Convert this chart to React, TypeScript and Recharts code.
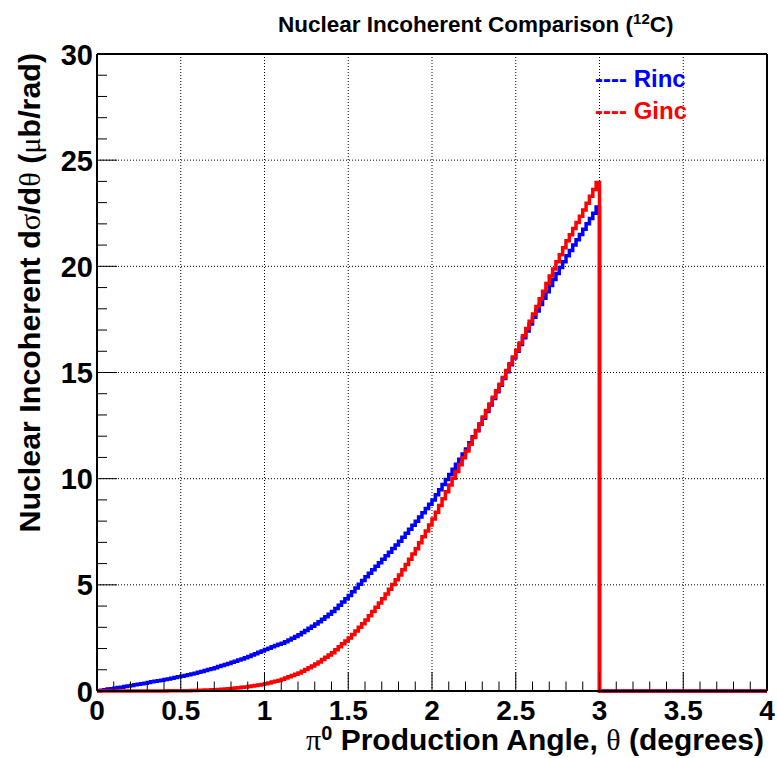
import React from "react";
import { LineChart, Line, XAxis, YAxis, CartesianGrid, ReferenceLine } from "recharts";

// histogram contents, bins of 0.02 deg from 0 to 3
const BIN_WIDTH = 0.02;

const rincValues = [
  0.01, 0.04, 0.06, 0.09, 0.11, 0.13, 0.16, 0.18, 0.21, 0.23,
  0.26, 0.29, 0.32, 0.34, 0.37, 0.40, 0.43, 0.46, 0.48, 0.51,
  0.54, 0.57, 0.60, 0.64, 0.67, 0.70, 0.73, 0.77, 0.80, 0.84,
  0.88, 0.92, 0.97, 1.01, 1.05, 1.10, 1.15, 1.20, 1.25, 1.30,
  1.35, 1.40, 1.46, 1.51, 1.57, 1.63, 1.69, 1.75, 1.82, 1.88,
  1.95, 2.01, 2.08, 2.14, 2.20, 2.25, 2.32, 2.40, 2.48, 2.57,
  2.65, 2.75, 2.85, 2.95, 3.05, 3.15, 3.26, 3.38, 3.50, 3.62,
  3.74, 3.89, 4.04, 4.19, 4.34, 4.50, 4.68, 4.85, 5.03, 5.20,
  5.38, 5.54, 5.71, 5.87, 6.04, 6.20, 6.37, 6.54, 6.71, 6.88,
  7.05, 7.24, 7.43, 7.62, 7.81, 8.00, 8.20, 8.40, 8.60, 8.80,
  9.00, 9.24, 9.48, 9.72, 9.96, 10.20, 10.44, 10.68, 10.92, 11.16,
  11.40, 11.69, 11.98, 12.27, 12.56, 12.85, 13.16, 13.47, 13.78, 14.09,
  14.40, 14.72, 15.04, 15.36, 15.68, 16.00, 16.32, 16.64, 16.96, 17.28,
  17.60, 17.90, 18.20, 18.50, 18.80, 19.10, 19.38, 19.66, 19.94, 20.22,
  20.50, 20.75, 21.00, 21.25, 21.50, 21.75, 22.00, 22.25, 22.50, 22.80,
];

const gincValues = [
  0, 0, 0, 0, 0, 0, 0, 0, 0, 0,
  0, 0, 0, 0, 0.001, 0.002, 0.002, 0.003, 0.003, 0.004,
  0.005, 0.006, 0.007, 0.008, 0.009, 0.01, 0.013, 0.016, 0.02, 0.025,
  0.03, 0.036, 0.042, 0.048, 0.054, 0.06, 0.07, 0.082, 0.095, 0.108,
  0.12, 0.137, 0.155, 0.173, 0.191, 0.21, 0.235, 0.26, 0.285, 0.31,
  0.34, 0.38, 0.42, 0.46, 0.50, 0.55, 0.61, 0.67, 0.73, 0.79,
  0.85, 0.93, 1.01, 1.10, 1.18, 1.27, 1.37, 1.48, 1.59, 1.69,
  1.80, 1.94, 2.08, 2.22, 2.36, 2.50, 2.66, 2.83, 3.00, 3.17,
  3.34, 3.54, 3.74, 3.94, 4.15, 4.35, 4.57, 4.79, 5.01, 5.24,
  5.46, 5.71, 5.96, 6.21, 6.45, 6.70, 6.98, 7.26, 7.54, 7.82,
  8.10, 8.42, 8.74, 9.06, 9.38, 9.70, 10.02, 10.34, 10.66, 10.98,
  11.30, 11.62, 11.94, 12.26, 12.58, 12.90, 13.21, 13.52, 13.83, 14.14,
  14.45, 14.77, 15.09, 15.41, 15.73, 16.05, 16.39, 16.73, 17.07, 17.41,
  17.75, 18.11, 18.47, 18.83, 19.19, 19.55, 19.88, 20.21, 20.54, 20.87,
  21.20, 21.49, 21.78, 22.07, 22.36, 22.65, 22.97, 23.30, 23.62, 23.95,
];

const xMajor = [0, 0.5, 1, 1.5, 2, 2.5, 3, 3.5, 4];
const xTicks = [
  0, 0.1, 0.2, 0.3, 0.4, 0.5, 0.6, 0.7, 0.8, 0.9,
  1, 1.1, 1.2, 1.3, 1.4, 1.5, 1.6, 1.7, 1.8, 1.9,
  2, 2.1, 2.2, 2.3, 2.4, 2.5, 2.6, 2.7, 2.8, 2.9,
  3, 3.1, 3.2, 3.3, 3.4, 3.5, 3.6, 3.7, 3.8, 3.9, 4,
];
const yMajor = [0, 5, 10, 15, 20, 25, 30];
const yTicks = [
  0, 1, 2, 3, 4, 5, 6, 7, 8, 9, 10, 11, 12, 13, 14, 15,
  16, 17, 18, 19, 20, 21, 22, 23, 24, 25, 26, 27, 28, 29, 30,
];

// points at bin low edges, then the empty range 3..4
const data = rincValues.map((r, i) => ({ x: i * BIN_WIDTH, rinc: r, ginc: gincValues[i] }));
data.push({ x: 3, rinc: 0, ginc: 0 });
data.push({ x: 4, rinc: 0, ginc: 0 });

const FONT = "'Liberation Sans', Arial, Helvetica, sans-serif";
const SYMBOL = "'Liberation Serif', 'DejaVu Serif', serif";

function XTick({ x, y, payload }: any) {
  const major = xMajor.includes(payload.value);
  return (
    <g>
      <line x1={x} x2={x} y1={y} y2={y - (major ? 19 : 9.5)} stroke="#000" strokeWidth={1} />
      {major && (
        <text x={x} y={y + 29} textAnchor="middle" fontFamily={FONT} fontWeight="bold" fontSize={28} fill="#000">
          {String(payload.value)}
        </text>
      )}
    </g>
  );
}

function YTick({ x, y, payload }: any) {
  const major = yMajor.includes(payload.value);
  return (
    <g>
      <line x1={x} x2={x + (major ? 20 : 10)} y1={y} y2={y} stroke="#000" strokeWidth={1} />
      {major && (
        <text x={x - 4} y={y + 10.5} textAnchor="end" fontFamily={FONT} fontWeight="bold" fontSize={29} fill="#000">
          {String(payload.value)}
        </text>
      )}
    </g>
  );
}

function XTitle({ viewBox }: any) {
  const vb = viewBox || { x: 97, y: 691, width: 670, height: 67 };
  return (
    <text x={vb.x + vb.width - 3} y={vb.y + 59} textAnchor="end" fontFamily={FONT} fontWeight="bold" fontSize={30} fill="#000">
      <tspan fontFamily={SYMBOL} fontWeight="normal">π</tspan>
      <tspan fontSize={20} dy={-10}>0</tspan>
      <tspan dy={10}> Production Angle, </tspan>
      <tspan fontFamily={SYMBOL} fontWeight="normal">θ</tspan>
      <tspan> (degrees)</tspan>
    </text>
  );
}

function YTitle({ viewBox }: any) {
  const vb = viewBox || { x: 0, y: 54, width: 97, height: 637 };
  const tx = vb.x + 40;
  const ty = vb.y - 1;
  return (
    <text x={tx} y={ty} transform={`rotate(-90 ${tx} ${ty})`} textAnchor="end" fontFamily={FONT} fontWeight="bold" fontSize={30.4} fill="#000">
      <tspan>Nuclear Incoherent d</tspan>
      <tspan fontFamily={SYMBOL} fontWeight="normal">σ</tspan>
      <tspan>/d</tspan>
      <tspan fontFamily={SYMBOL} fontWeight="normal">θ</tspan>
      <tspan> (</tspan>
      <tspan fontFamily={SYMBOL} fontWeight="normal">μ</tspan>
      <tspan>b/rad)</tspan>
    </text>
  );
}

export default function App() {
  return (
    <div style={{ position: "absolute", left: 0, top: 0, width: 777, height: 758, background: "#fff" }}>
      <LineChart width={777} height={758} data={data} margin={{ top: 54, right: 10, bottom: 0, left: 0 }}>
        <CartesianGrid
          verticalValues={xMajor}
          horizontalValues={yMajor}
          stroke="#000"
          strokeWidth={1}
          strokeDasharray="1 2"
        />
        <XAxis
          dataKey="x"
          type="number"
          domain={[0, 4]}
          ticks={xTicks}
          interval={0}
          height={67}
          tickLine={false}
          tickSize={0}
          tickMargin={0}
          axisLine={{ stroke: "#000", strokeWidth: 2 }}
          tick={<XTick />}
          label={<XTitle />}
        />
        <YAxis
          type="number"
          domain={[0, 30]}
          ticks={yTicks}
          interval={0}
          width={97}
          tickLine={false}
          tickSize={0}
          tickMargin={0}
          axisLine={{ stroke: "#000", strokeWidth: 2 }}
          tick={<YTick />}
          label={<YTitle />}
        />
        <ReferenceLine y={30} stroke="#000" strokeWidth={2} />
        <ReferenceLine x={4} stroke="#000" strokeWidth={2} />
        <Line dataKey="rinc" type="stepAfter" stroke="#0000ff" strokeWidth={3.5} dot={false} isAnimationActive={false} />
        <Line dataKey="ginc" type="stepAfter" stroke="#ff0000" strokeWidth={3.5} dot={false} isAnimationActive={false} />
      </LineChart>
      <svg width={777} height={758} style={{ position: "absolute", left: 0, top: 0, pointerEvents: "none" }}>
        <text x={278} y={32} fontFamily={FONT} fontWeight="bold" fontSize={22.5} fill="#000">
          Nuclear Incoherent Comparison (<tspan fontSize={15} dy={-8}>12</tspan><tspan dy={8}>C)</tspan>
        </text>
        <text x={595} y={87} fontFamily={FONT} fontWeight="bold" fontSize={24} fill="#0000ff">---- Rinc</text>
        <text x={595} y={119} fontFamily={FONT} fontWeight="bold" fontSize={24} fill="#ff0000">---- Ginc</text>
      </svg>
    </div>
  );
}
